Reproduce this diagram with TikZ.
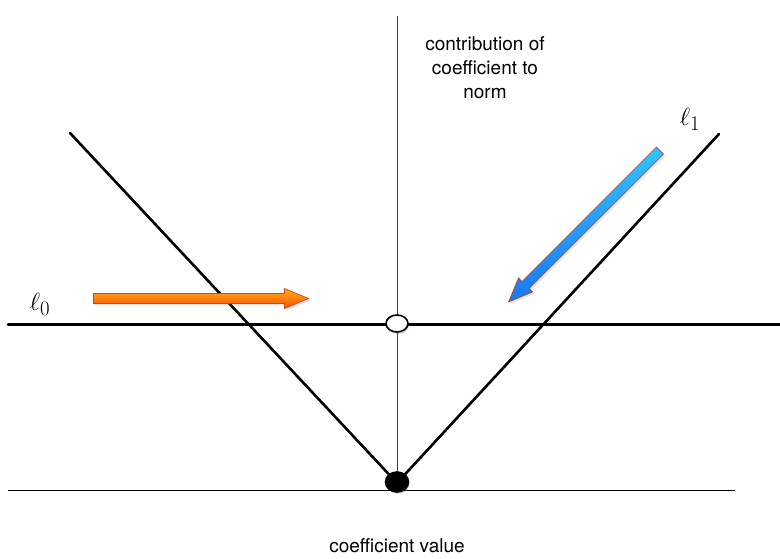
\documentclass[tikz,border=0pt]{standalone}
\usepackage{fontspec}
\setmainfont{TeX Gyre Heros}
\usetikzlibrary{shapes.arrows,shapes.geometric,shadows}
\definecolor{orTop}{HTML}{FFAE1A}
\definecolor{orBot}{HTML}{FF5000}
\definecolor{orEdge}{HTML}{D0461C}
\definecolor{blTop}{HTML}{30C4FF}
\definecolor{blBot}{HTML}{1A78F0}
\definecolor{blEdge}{HTML}{C03A22}
\begin{document}
\begin{tikzpicture}[x=1pt,y=-1pt,
  thinline/.style={line width=0.9pt},
  thickline/.style={line width=2.6pt, line cap=round},
  fatarrow/.style={single arrow, draw, line width=0.7pt, inner xsep=0pt, inner ysep=4.6pt,
     text height=0pt, text depth=0pt, text width=0pt,
     single arrow head extend=5pt, single arrow tip angle=45, shape border uses incircle=false,
     drop shadow={opacity=0.22, shadow xshift=1.5pt, shadow yshift=-2pt}},
  knot/.style={ellipse, draw, line width=1.6pt, inner sep=0pt,
     drop shadow={opacity=0.3, shadow xshift=1pt, shadow yshift=-2pt}},
  lbl/.style={font=\fontsize{19}{24}\selectfont, align=center},
  ell/.style={font=\fontsize{28.5}{30}\selectfont}
]
\useasboundingbox (0,0) rectangle (780,559);

% coordinates
\coordinate (vtop) at (397,16);
\coordinate (vbot) at (397,491);
\coordinate (bl) at (8,490);
\coordinate (br) at (735,490);
\coordinate (hl) at (8,324.5);
\coordinate (hr) at (780,324.5);
\coordinate (lt) at (70,133);
\coordinate (rt) at (719,134);
\coordinate (vtip) at (397,483);

% thin axes
\draw[thinline, black!75] (vtop) -- (vbot);
\draw[thinline] (bl) -- (br);

% thick lines
\draw[thickline] (hl) -- (hr);
\draw[thickline] (lt) -- (vtip) -- (rt);

% knots
\node[knot, fill=white, minimum width=22pt, minimum height=17pt] (open) at (397,323.5) {};
\node[knot, fill=black, minimum width=23pt, minimum height=20pt] (dot) at (397,482) {};

% arrows
\node[fatarrow, draw=orEdge, top color=orTop, bottom color=orBot, minimum height=215pt] (oarr) at (195,298.5) {};
\node[fatarrow, draw=blEdge, top color=blTop, bottom color=blBot, minimum height=214pt, rotate=225] (barr) at (588.5,222) {};

% labels
\node[ell] (l0) at (40,304) {$\ell_0$};
\node[ell] (l1) at (690,119) {$\ell_1$};
\node[lbl] (ytxt) at (485,68) {contribution of\\coefficient to\\norm};
\node[lbl] (xtxt) at (397,546) {coefficient value};
\end{tikzpicture}
\end{document}
